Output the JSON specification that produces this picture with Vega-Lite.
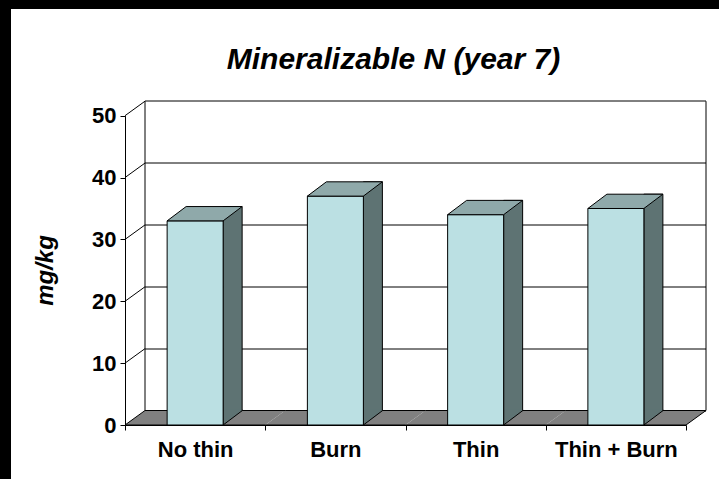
{
  "$schema": "https://vega.github.io/schema/vega-lite/v6.json",
  "autosize": {"type": "none"},
  "padding": {"left": 125, "top": 123, "right": 33, "bottom": 54},
  "width": 561,
  "height": 302,
  "background": "black",
  "config": {
    "font": "Liberation Sans",
    "view": {"fill": "white", "stroke": "white", "strokeWidth": 228}
  },
  "title": {
    "text": "Mineralizable N (year 7)",
    "fontSize": 30,
    "fontStyle": "italic",
    "fontWeight": "bold",
    "color": "black",
    "anchor": "middle",
    "offset": 24,
    "dx": -12
  },
  "data": {
    "values": [
      {"treatment": "No thin", "value": 33},
      {"treatment": "Burn", "value": 37},
      {"treatment": "Thin", "value": 34},
      {"treatment": "Thin + Burn", "value": 35}
    ]
  },
  "layer": [
    {
      "mark": {"type": "point", "opacity": 0},
      "encoding": {
        "y": {
          "field": "value",
          "type": "quantitative",
          "scale": {"domain": [0, 50], "range": [267.5, -41.8], "nice": false, "zero": false},
          "axis": {
            "orient": "left",
            "values": [0, 10, 20, 30, 40, 50],
            "grid": true,
            "gridColor": "black",
            "gridWidth": 1,
            "gridOpacity": 1,
            "labels": false,
            "ticks": false,
            "domain": true,
            "domainColor": "black",
            "domainWidth": 1,
            "translate": 20,
            "title": null
          }
        }
      }
    },
    {
      "mark": {"type": "point", "opacity": 0},
      "encoding": {
        "y": {
          "field": "value",
          "type": "quantitative",
          "scale": {"domain": [0, 50], "range": [267.5, -41.8], "nice": false, "zero": false},
          "axis": {
            "orient": "right",
            "values": [0, 50],
            "grid": false,
            "labels": false,
            "ticks": false,
            "domain": true,
            "domainColor": "black",
            "domainWidth": 1,
            "translate": 20,
            "title": null
          }
        }
      }
    },
    {
      "encoding": {
        "x": {
          "field": "treatment",
          "type": "nominal",
          "sort": null,
          "scale": {"paddingInner": 0, "paddingOuter": 0},
          "axis": {
            "orient": "bottom",
            "title": null,
            "labelAngle": 0,
            "labelFontSize": 22,
            "labelFontWeight": "bold",
            "labelColor": "black",
            "labelPadding": 9,
            "domainColor": "black",
            "domainWidth": 1,
            "tickColor": "black",
            "tickSize": 5,
            "tickBand": "extent",
            "grid": false,
            "zindex": 1
          }
        },
        "y": {
          "field": "value",
          "type": "quantitative",
          "scale": {"domain": [0, 50], "range": [302, -7.3], "nice": false, "zero": false},
          "axis": {
            "orient": "left",
            "values": [0, 10, 20, 30, 40, 50],
            "grid": false,
            "labelFontSize": 22,
            "labelFontWeight": "bold",
            "labelColor": "black",
            "labelPadding": 4,
            "domainColor": "black",
            "domainWidth": 1,
            "tickColor": "black",
            "tickSize": 5,
            "title": "mg/kg",
            "titleFontSize": 24,
            "titleFontWeight": "bold",
            "titleFontStyle": "italic",
            "titleColor": "black",
            "titleX": -73,
            "titleY": 147,
            "titleAngle": -90,
            "titleAlign": "center",
            "titleBaseline": "alphabetic",
            "zindex": 1
          }
        }
      },
      "layer": [
        {
          "mark": {
            "type": "point",
            "shape": "M-70.125,0L70.125,0L90.125,-14.5L-50.125,-14.5Z",
            "size": 4,
            "filled": true,
            "fill": "#808080",
            "strokeWidth": 0,
            "opacity": 1
          },
          "encoding": {"y": {"datum": 0}}
        },
        {
          "mark": {
            "type": "point",
            "shape": "M-70.125,0L70.125,0M-50.125,-14.5L90.125,-14.5",
            "size": 4,
            "filled": false,
            "stroke": "black",
            "strokeWidth": 1,
            "opacity": 1
          },
          "encoding": {"y": {"datum": 0}}
        },
        {
          "transform": [{"filter": {"field": "treatment", "equal": "No thin"}}],
          "mark": {
            "type": "point",
            "shape": "M-70.125,0L-50.125,-14.5M-70.125,-61.86L-50.125,-76.36M-70.125,-123.72L-50.125,-138.22M-70.125,-185.58L-50.125,-200.08M-70.125,-247.44L-50.125,-261.94M-70.125,-309.3L-50.125,-323.8",
            "size": 4,
            "filled": false,
            "stroke": "black",
            "strokeWidth": 1,
            "opacity": 1
          },
          "encoding": {"y": {"datum": 0}}
        },
        {
          "transform": [{"filter": {"field": "treatment", "equal": "Thin + Burn"}}],
          "mark": {
            "type": "point",
            "shape": "M70.125,0L90.125,-14.5",
            "size": 4,
            "filled": false,
            "stroke": "black",
            "strokeWidth": 1,
            "opacity": 1
          },
          "encoding": {"y": {"datum": 0}}
        },
        {
          "mark": {
            "type": "bar",
            "width": 19,
            "xOffset": 37.5,
            "yOffset": -14.3,
            "y2Offset": -14.3,
            "fill": "#5e7373",
            "stroke": "black",
            "strokeWidth": 1
          },
          "encoding": {"y": {"field": "value", "type": "quantitative"}, "y2": {"datum": 0}}
        },
        {
          "mark": {
            "type": "point",
            "shape": "M28,-15.3L28,0L47,-14.3L47,-15.3",
            "size": 4,
            "filled": true,
            "fill": "#5e7373",
            "stroke": "black",
            "strokeWidth": 1,
            "opacity": 1
          },
          "encoding": {"y": {"datum": 0}}
        },
        {
          "mark": {
            "type": "bar",
            "width": 56,
            "fill": "#bbe0e3",
            "stroke": "black",
            "strokeWidth": 1
          },
          "encoding": {"y": {"field": "value", "type": "quantitative"}, "y2": {"datum": 0}}
        },
        {
          "mark": {
            "type": "point",
            "shape": "M-28,0L28,0L47,-14.3L-9,-14.3Z",
            "size": 4,
            "filled": true,
            "fill": "#8fa9aa",
            "stroke": "black",
            "strokeWidth": 1,
            "opacity": 1
          },
          "encoding": {"y": {"field": "value", "type": "quantitative"}}
        }
      ]
    }
  ],
  "resolve": {"scale": {"y": "independent"}, "axis": {"y": "independent"}}
}
